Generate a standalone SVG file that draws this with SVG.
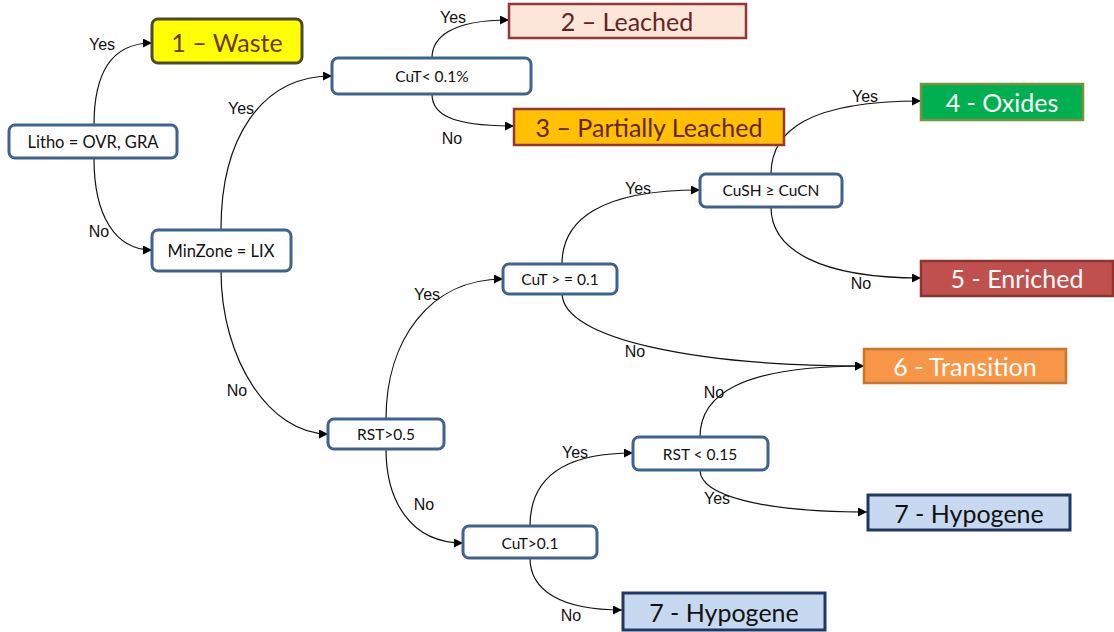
<svg xmlns="http://www.w3.org/2000/svg" width="1114" height="632" viewBox="0 0 1114 632">
<defs>
<marker id="ah" viewBox="0 0 10 10" refX="10" refY="5" markerWidth="9" markerHeight="9" markerUnits="userSpaceOnUse" orient="auto">
<path d="M0,0 L10,5 L0,10 z" fill="#000"/>
</marker>
<style>
.dec{fill:#fff;stroke:#3E6391;stroke-width:3}
.dt{font-family:Lato,"Liberation Sans",sans-serif;font-size:16.5px;fill:#111;text-anchor:middle;dominant-baseline:central}
.ds{font-size:15.5px}
.rt{font-family:Lato,"Liberation Sans",sans-serif;font-size:25px;text-anchor:middle;dominant-baseline:central}
.lbl{font-family:"Liberation Sans",Arial,sans-serif;font-size:16px;fill:#111;text-anchor:middle;dominant-baseline:central}
.c{fill:none;stroke:#111;stroke-width:1.2;marker-end:url(#ah)}
</style>
</defs>
<rect width="1114" height="632" fill="#fff"/>
<g id="connectors">
<path class="c" d="M94,125 C94,75 110,43 152,43"/>
<path class="c" d="M94,159 C94,215 115,250 152,250"/>
<path class="c" d="M221,229 C221,140 260,76 332,76"/>
<path class="c" d="M221,271 C221,360 270,434 328,434"/>
<path class="c" d="M432,58 C432,38 450,20 509,20"/>
<path class="c" d="M432,94 C432,114 450,126 514,126"/>
<path class="c" d="M386,419 C386,340 430,279 503,279"/>
<path class="c" d="M386,449 C386,500 410,543 463,543"/>
<path class="c" d="M562,264 C562,220 600,190 700,190"/>
<path class="c" d="M562,293 C562,340 700,366 864,366"/>
<path class="c" d="M771,174 C771,130 810,101 921,101"/>
<path class="c" d="M771,207 C771,250 820,278 921,278"/>
<path class="c" d="M530,526 C530,480 560,453 633,453"/>
<path class="c" d="M530,558 C530,590 560,610 622,610"/>
<path class="c" d="M700,437 C700,395 740,366 864,366"/>
<path class="c" d="M700,470 C700,495 760,512 867,512"/>
</g>
<g id="labels">
<text class="lbl" x="102" y="44">Yes</text>
<text class="lbl" x="99" y="231">No</text>
<text class="lbl" x="241" y="108">Yes</text>
<text class="lbl" x="237" y="390">No</text>
<text class="lbl" x="453" y="17">Yes</text>
<text class="lbl" x="452" y="138">No</text>
<text class="lbl" x="427" y="294">Yes</text>
<text class="lbl" x="424" y="504">No</text>
<text class="lbl" x="638" y="188">Yes</text>
<text class="lbl" x="635" y="351">No</text>
<text class="lbl" x="865" y="96">Yes</text>
<text class="lbl" x="861" y="283">No</text>
<text class="lbl" x="575" y="452">Yes</text>
<text class="lbl" x="571" y="615">No</text>
<text class="lbl" x="714" y="392">No</text>
<text class="lbl" x="717" y="498">Yes</text>
</g>
<g id="n-litho"><rect class="dec" x="9" y="125" width="168" height="33" rx="6"/><text class="dt" x="93" y="142">Litho = OVR, GRA</text></g>
<g id="n-minzone"><rect class="dec" x="152" y="230" width="139" height="41" rx="6"/><text class="dt" x="221" y="251">MinZone = LIX</text></g>
<g id="n-cut01"><rect class="dec" x="332" y="58" width="199" height="36" rx="6"/><text class="dt ds" x="432" y="76">CuT&lt; 0.1%</text></g>
<g id="n-rst05"><rect class="dec" x="328" y="419" width="116" height="30" rx="6"/><text class="dt ds" x="386" y="434">RST&gt;0.5</text></g>
<g id="n-cutge"><rect class="dec" x="503" y="264" width="114" height="30" rx="6"/><text class="dt ds" x="560" y="279">CuT &gt; = 0.1</text></g>
<g id="n-cush"><rect class="dec" x="700" y="174" width="142" height="33" rx="6"/><text class="dt ds" x="771" y="190">CuSH ≥ CuCN</text></g>
<g id="n-cutgt"><rect class="dec" x="463" y="526" width="134" height="32" rx="6"/><text class="dt ds" x="530" y="543">CuT&gt;0.1</text></g>
<g id="n-rst015"><rect class="dec" x="633" y="437" width="135" height="33" rx="6"/><text class="dt ds" x="700" y="454">RST &lt; 0.15</text></g>
<g id="n-waste"><rect x="152" y="19" width="150" height="44" rx="6" fill="#FFFF00" stroke="#4B4A2C" stroke-width="3"/><text class="rt" x="227" y="42" fill="#6E3512">1 – Waste</text></g>
<g id="n-leached"><rect x="509" y="4" width="237" height="34" fill="#FCE6D8" stroke="#953735" stroke-width="2.5"/><text class="rt" x="627" y="21" fill="#632523">2 – Leached</text></g>
<g id="n-partial"><rect x="514" y="109" width="270" height="36" fill="#FFC000" stroke="#953735" stroke-width="2.5"/><text class="rt" x="649" y="127" fill="#632523">3 – Partially Leached</text></g>
<g id="n-oxides"><rect x="921" y="84" width="162" height="36" fill="#00B050" stroke="#77933C" stroke-width="2.5"/><text class="rt" x="1002" y="102" fill="#fff">4 - Oxides</text></g>
<g id="n-enriched"><rect x="921" y="261" width="192" height="35" fill="#C0504D" stroke="#8C3432" stroke-width="2.5"/><text class="rt" x="1017" y="278" fill="#fff">5 - Enriched</text></g>
<g id="n-transition"><rect x="864" y="349" width="202" height="34" fill="#F79646" stroke="#C8752F" stroke-width="2.5"/><text class="rt" x="965" y="366" fill="#fff">6 - Transition</text></g>
<g id="n-hypo1"><rect x="868" y="495" width="202" height="35" fill="#C6D9F1" stroke="#1F3864" stroke-width="3"/><text class="rt" x="969" y="513" fill="#111">7 - Hypogene</text></g>
<g id="n-hypo2"><rect x="623" y="593" width="202" height="37" fill="#C6D9F1" stroke="#1F3864" stroke-width="3"/><text class="rt" x="724" y="612" fill="#111">7 - Hypogene</text></g>
</svg>
